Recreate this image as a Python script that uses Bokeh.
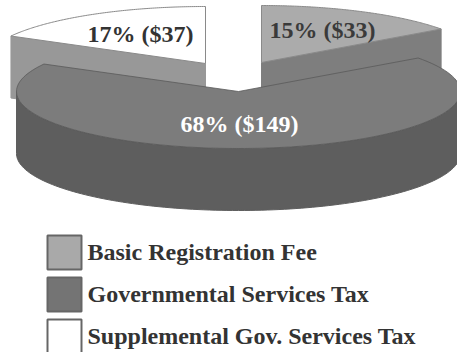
import math
from bokeh.plotting import figure
from bokeh.models import Range1d
from bokeh.core.properties import value
from bokeh.embed import file_html
from bokeh.resources import INLINE

categories = ["Basic Registration Fee", "Governmental Services Tax", "Supplemental Gov. Services Tax"]
shares = [15, 68, 17]
dollars = [33, 149, 37]
top_colors = ["#ababab", "#7c7c7c", "#ffffff"]
wall_colors = ["#7e7e7e", "#5e5e5e", "#989898"]
swatch_colors = ["#a9a9a9", "#747474", "#ffffff"]

W, H = 457, 352
RX, RY, DEPTH = 222, 57, 62
apexes = [(261, 62), (238, 91), (205, 63)]
label_pos = [(322, 29), (239, 123), (140, 33)]
label_colors = ["#3a3a3a", "#ffffff", "#333333"]

p = figure(width=W, height=H, output_backend="svg", toolbar_location=None,
           x_range=Range1d(0, W), y_range=Range1d(H, 0),
           min_border=0, outline_line_color=None, background_fill_color="white",
           border_fill_color="white")
p.xaxis.visible = False
p.yaxis.visible = False
p.grid.visible = False


def pt(c, deg, dy=0):
    a = math.radians(deg)
    return c[0] + RX * math.cos(a), c[1] - RY * math.sin(a) + dy


# Angular extent of each slice, clockwise from 12 o'clock
spans = []
start = 90.0
for s in shares:
    end = start - s * 3.6
    spans.append((start, end))
    start = end


def arc(c, a0, a1, dy=0, n=120):
    return [pt(c, a0 + (a1 - a0) * i / n, dy) for i in range(n + 1)]


def patch(points, fill, line=None, lw=1):
    p.patch([q[0] for q in points], [q[1] for q in points], fill_color=fill,
            line_color=line if line else fill, line_width=lw)


def cut_wall(c, deg, color):
    e = pt(c, deg)
    patch([c, e, (e[0], e[1] + DEPTH), (c[0], c[1] + DEPTH)], color)


# Rear slices: cut faces, then top faces
for i in (0, 2):
    a0, a1 = spans[i]
    cut_wall(apexes[i], a0 if i == 2 else a1, wall_colors[i])
    patch([apexes[i]] + arc(apexes[i], a0, a1), top_colors[i], "#8a8a8a", 1)

# Main slice: rim wall, then top face
a0, a1 = spans[1]
c = apexes[1]
patch(arc(c, -180, 0) + arc(c, 0, -180, DEPTH), wall_colors[1])
patch([c] + arc(c, a0, a1), top_colors[1], "#5a5a5a", 0.8)

# Slice labels
for i, (x, y) in enumerate(label_pos):
    p.text([x], [y], text=[f"{shares[i]}% (${dollars[i]})"], text_align="center",
           text_baseline="middle", text_color=label_colors[i],
           text_font=value("Liberation Serif"), text_font_style="bold", text_font_size="24px")

# Legend
for i, name in enumerate(categories):
    top = 235 + i * 42
    p.quad(left=[47], right=[81], top=[top], bottom=[top + 34], fill_color=swatch_colors[i],
           line_color="#666666", line_width=2)
    p.text([87], [top + 16], text=[name], text_align="left", text_baseline="middle",
           text_color="#333333", text_font=value("Liberation Serif"),
           text_font_style="bold", text_font_size="24px")

open("out.html", "w").write(file_html(p, INLINE))
